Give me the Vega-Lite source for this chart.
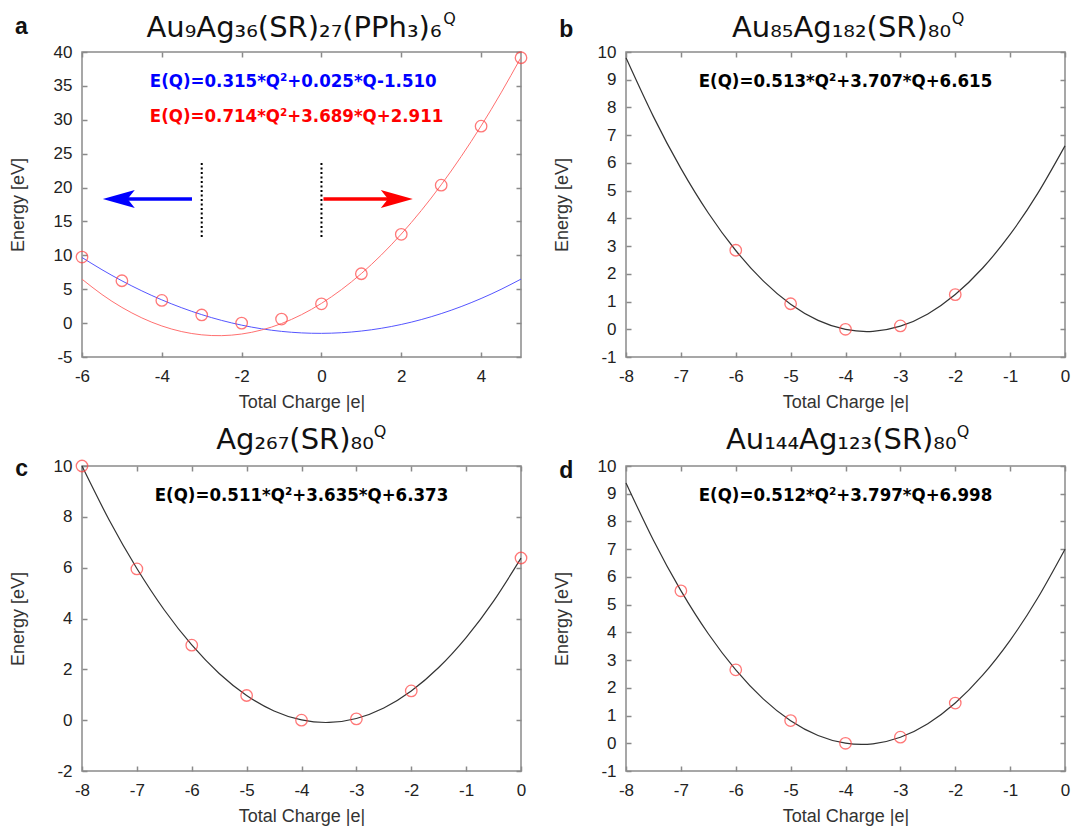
{
  "$schema": "https://vega.github.io/schema/vega-lite/v6.json",
  "padding": {"left": 8, "top": 10, "right": 0, "bottom": 0},
  "background": "white",
  "config": {
    "view": {"stroke": "#8a8a8a", "strokeWidth": 1.5},
    "axis": {"grid": false, "domain": false, "ticks": true, "tickSize": -5, "tickColor": "#8a8a8a", "tickWidth": 1.5,
      "labelFont": "Liberation Sans", "labelFontSize": 17, "labelColor": "#222222", "labelFlush": false, "labelOverlap": false,
      "labelExpr": "replace(format(datum.value, 'd'), '−', '-')",
      "titleFont": "Liberation Sans", "titleFontSize": 18, "titleFontWeight": "normal", "titleColor": "#333333"},
    "axisX": {"labelPadding": 16, "titlePadding": 9},
    "axisY": {"labelPadding": 15, "titlePadding": 26}
  },
  "datasets": {
    "pa": [{"q": -6, "e": 9.75}, {"q": -5, "e": 6.25}, {"q": -4, "e": 3.35}, {"q": -3, "e": 1.2}, {"q": -2, "e": 0.0}, {"q": -1, "e": 0.6}, {"q": 0, "e": 2.85}, {"q": 1, "e": 7.28}, {"q": 2, "e": 13.1}, {"q": 3, "e": 20.35}, {"q": 4, "e": 29.05}, {"q": 5, "e": 39.15}],
    "ca_blue": [{"q": -6, "e": 9.68}, {"q": -5.5, "e": 7.881}, {"q": -5, "e": 6.24}, {"q": -4.5, "e": 4.756}, {"q": -4, "e": 3.43}, {"q": -3.5, "e": 2.261}, {"q": -3, "e": 1.25}, {"q": -2.5, "e": 0.396}, {"q": -2, "e": -0.3}, {"q": -1.5, "e": -0.839}, {"q": -1, "e": -1.22}, {"q": -0.5, "e": -1.444}, {"q": 0, "e": -1.51}, {"q": 0.5, "e": -1.419}, {"q": 1, "e": -1.17}, {"q": 1.5, "e": -0.764}, {"q": 2, "e": -0.2}, {"q": 2.5, "e": 0.521}, {"q": 3, "e": 1.4}, {"q": 3.5, "e": 2.436}, {"q": 4, "e": 3.63}, {"q": 4.5, "e": 4.981}, {"q": 5, "e": 6.49}],
    "ca_red": [{"q": -6, "e": 6.481}, {"q": -5.5, "e": 4.22}, {"q": -5, "e": 2.316}, {"q": -4.5, "e": 0.769}, {"q": -4, "e": -0.421}, {"q": -3.5, "e": -1.254}, {"q": -3, "e": -1.73}, {"q": -2.5, "e": -1.849}, {"q": -2, "e": -1.611}, {"q": -1.5, "e": -1.016}, {"q": -1, "e": -0.064}, {"q": -0.5, "e": 1.245}, {"q": 0, "e": 2.911}, {"q": 0.5, "e": 4.934}, {"q": 1, "e": 7.314}, {"q": 1.5, "e": 10.051}, {"q": 2, "e": 13.145}, {"q": 2.5, "e": 16.596}, {"q": 3, "e": 20.404}, {"q": 3.5, "e": 24.569}, {"q": 4, "e": 29.091}, {"q": 4.5, "e": 33.97}, {"q": 5, "e": 39.206}],
    "pb": [{"q": -6, "e": 2.85}, {"q": -5, "e": 0.92}, {"q": -4, "e": 0.0}, {"q": -3, "e": 0.12}, {"q": -2, "e": 1.25}],
    "cb": [{"q": -8, "e": 9.791}, {"q": -7.5, "e": 7.669}, {"q": -7, "e": 5.803}, {"q": -6.5, "e": 4.193}, {"q": -6, "e": 2.841}, {"q": -5.5, "e": 1.745}, {"q": -5, "e": 0.905}, {"q": -4.5, "e": 0.322}, {"q": -4, "e": -0.005}, {"q": -3.5, "e": -0.075}, {"q": -3, "e": 0.111}, {"q": -2.5, "e": 0.554}, {"q": -2, "e": 1.253}, {"q": -1.5, "e": 2.209}, {"q": -1, "e": 3.421}, {"q": -0.5, "e": 4.89}, {"q": 0, "e": 6.615}],
    "pc": [{"q": -8, "e": 10.0}, {"q": -7, "e": 5.95}, {"q": -6, "e": 2.95}, {"q": -5, "e": 0.97}, {"q": -4, "e": 0.0}, {"q": -3, "e": 0.05}, {"q": -2, "e": 1.15}, {"q": 0, "e": 6.38}],
    "cc": [{"q": -8, "e": 9.997}, {"q": -7.5, "e": 7.854}, {"q": -7, "e": 5.967}, {"q": -6.5, "e": 4.335}, {"q": -6, "e": 2.959}, {"q": -5.5, "e": 1.838}, {"q": -5, "e": 0.973}, {"q": -4.5, "e": 0.363}, {"q": -4, "e": 0.009}, {"q": -3.5, "e": -0.09}, {"q": -3, "e": 0.067}, {"q": -2.5, "e": 0.479}, {"q": -2, "e": 1.147}, {"q": -1.5, "e": 2.07}, {"q": -1, "e": 3.249}, {"q": -0.5, "e": 4.683}, {"q": 0, "e": 6.373}],
    "pd": [{"q": -7, "e": 5.5}, {"q": -6, "e": 2.65}, {"q": -5, "e": 0.82}, {"q": -4, "e": 0.0}, {"q": -3, "e": 0.22}, {"q": -2, "e": 1.45}],
    "cd": [{"q": -8, "e": 9.39}, {"q": -7.5, "e": 7.321}, {"q": -7, "e": 5.507}, {"q": -6.5, "e": 3.95}, {"q": -6, "e": 2.648}, {"q": -5.5, "e": 1.603}, {"q": -5, "e": 0.813}, {"q": -4.5, "e": 0.28}, {"q": -4, "e": 0.002}, {"q": -3.5, "e": -0.02}, {"q": -3, "e": 0.215}, {"q": -2.5, "e": 0.706}, {"q": -2, "e": 1.452}, {"q": -1.5, "e": 2.455}, {"q": -1, "e": 3.713}, {"q": -0.5, "e": 5.228}, {"q": 0, "e": 6.998}]
  },
  "columns": 2,
  "spacing": {"row": 11, "column": 21},
  "concat": [
    {
      "width": 439, "height": 305,
      "resolve": {"scale": {"x": "independent", "y": "independent"}},
      "layer": [
        {"layer": [
          {"data": {"name": "ca_blue"}, "mark": {"type": "line", "color": "#5555ff", "strokeWidth": 1, "interpolate": "natural"},
           "encoding": {
             "x": {"field": "q", "type": "quantitative", "scale": {"domain": [-6, 5], "nice": false, "zero": false}, "axis": {"orient": "bottom", "values": [-6, -4, -2, 0, 2, 4], "tickCount": 40, "title": "Total Charge |e|"}},
             "y": {"field": "e", "type": "quantitative", "scale": {"domain": [-5, 40], "nice": false, "zero": false}, "axis": {"orient": "left", "values": [-5, 0, 5, 10, 15, 20, 25, 30, 35, 40], "tickCount": 40, "title": "Energy [eV]"}}}},
          {"data": {"name": "ca_red"}, "mark": {"type": "line", "color": "#ff7070", "strokeWidth": 1, "interpolate": "natural"},
           "encoding": {"x": {"field": "q", "type": "quantitative"}, "y": {"field": "e", "type": "quantitative"}}},
          {"data": {"values": [{"pos": -3}, {"pos": 0}]}, "mark": {"type": "rule", "color": "#000000", "strokeWidth": 2, "strokeDash": [2, 2.5]},
           "encoding": {"x": {"field": "pos", "type": "quantitative"}, "y": {"datum": 12.7, "type": "quantitative"}, "y2": {"datum": 23.8}}},
          {"data": {"values": [{}]}, "mark": {"type": "rule", "color": "#0000ff", "strokeWidth": 3.5},
           "encoding": {"x": {"datum": -5.0, "type": "quantitative"}, "x2": {"datum": -3.244}, "y": {"datum": 18.3, "type": "quantitative"}}},
          {"data": {"values": [{}]}, "mark": {"type": "point", "shape": "M-1,0L1,-0.56L0.55,0L1,0.56Z", "filled": true, "color": "#0000ff", "size": 1024, "opacity": 1, "strokeWidth": 0},
           "encoding": {"x": {"datum": -5.078, "type": "quantitative"}, "y": {"datum": 18.3, "type": "quantitative"}}},
          {"data": {"values": [{}]}, "mark": {"type": "rule", "color": "#ff0000", "strokeWidth": 3.5},
           "encoding": {"x": {"datum": 0.05, "type": "quantitative"}, "x2": {"datum": 1.85}, "y": {"datum": 18.3, "type": "quantitative"}}},
          {"data": {"values": [{}]}, "mark": {"type": "point", "shape": "M1,0L-1,-0.56L-0.55,0L-1,0.56Z", "filled": true, "color": "#ff0000", "size": 1024, "opacity": 1, "strokeWidth": 0},
           "encoding": {"x": {"datum": 1.888, "type": "quantitative"}, "y": {"datum": 18.3, "type": "quantitative"}}},
          {"data": {"values": [{}]}, "mark": {"type": "text", "text": "E(Q)=0.315*Q²+0.025*Q-1.510", "font": "DejaVu Sans Condensed, DejaVu Sans", "fontWeight": "bold", "fontSize": 18.5, "color": "#0000ff", "align": "left", "baseline": "middle"},
           "encoding": {"x": {"datum": -4.3, "type": "quantitative"}, "y": {"datum": 35.72, "type": "quantitative"}}},
          {"data": {"values": [{}]}, "mark": {"type": "text", "text": "E(Q)=0.714*Q²+3.689*Q+2.911", "font": "DejaVu Sans Condensed, DejaVu Sans", "fontWeight": "bold", "fontSize": 18.5, "color": "#ff0000", "align": "left", "baseline": "middle"},
           "encoding": {"x": {"datum": -4.3, "type": "quantitative"}, "y": {"datum": 30.56, "type": "quantitative"}}},
          {"data": {"values": [{}]}, "mark": {"type": "text", "text": "Au₉Ag₃₆(SR)₂₇(PPh₃)₆", "font": "DejaVu Sans", "fontSize": 29, "color": "#111111", "align": "center", "baseline": "alphabetic"},
           "encoding": {"x": {"datum": -0.688, "type": "quantitative"}, "y": {"datum": 42.26, "type": "quantitative"}}},
          {"data": {"values": [{}]}, "mark": {"type": "text", "text": "a", "font": "Liberation Sans", "fontWeight": "bold", "fontSize": 23, "color": "#111111", "align": "center", "baseline": "alphabetic"},
           "encoding": {"x": {"datum": -7.52, "type": "quantitative"}, "y": {"datum": 42.66, "type": "quantitative"}}},
          {"data": {"values": [{}]}, "mark": {"type": "text", "text": "Q", "font": "DejaVu Sans", "fontSize": 16, "color": "#111111", "align": "center", "baseline": "middle"},
           "encoding": {"x": {"datum": 3.21, "type": "quantitative"}, "y": {"datum": 44.87, "type": "quantitative"}}}
        ]},
        {"data": {"name": "pa"}, "mark": {"type": "point", "shape": "circle", "size": 132, "color": "#ff4040", "strokeWidth": 1.3, "filled": false},
         "encoding": {
           "x": {"field": "q", "type": "quantitative", "scale": {"domain": [-6, 5], "nice": false, "zero": false}, "axis": {"orient": "top", "values": [-6, -4, -2, 0, 2, 4], "tickCount": 40, "labels": false, "title": null}},
           "y": {"field": "e", "type": "quantitative", "scale": {"domain": [-5, 40], "nice": false, "zero": false}, "axis": {"orient": "right", "values": [-5, 0, 5, 10, 15, 20, 25, 30, 35, 40], "tickCount": 40, "labels": false, "title": null}}}}
      ]
    },
    {
      "width": 439, "height": 305,
      "resolve": {"scale": {"x": "independent", "y": "independent"}},
      "layer": [
        {"layer": [
          {"data": {"name": "cb"}, "mark": {"type": "line", "color": "#333333", "strokeWidth": 1.2, "interpolate": "natural"},
           "encoding": {
             "x": {"field": "q", "type": "quantitative", "scale": {"domain": [-8, 0], "nice": false, "zero": false}, "axis": {"orient": "bottom", "values": [-8, -7, -6, -5, -4, -3, -2, -1, 0], "tickCount": 40, "title": "Total Charge |e|"}},
             "y": {"field": "e", "type": "quantitative", "scale": {"domain": [-1, 10], "nice": false, "zero": false}, "axis": {"orient": "left", "values": [-1, 0, 1, 2, 3, 4, 5, 6, 7, 8, 9, 10], "tickCount": 40, "title": "Energy [eV]"}}}},
          {"data": {"values": [{}]}, "mark": {"type": "text", "text": "E(Q)=0.513*Q²+3.707*Q+6.615", "font": "DejaVu Sans Condensed, DejaVu Sans", "fontWeight": "bold", "fontSize": 18.5, "color": "#000000", "align": "center", "baseline": "middle"},
           "encoding": {"x": {"datum": -4, "type": "quantitative"}, "y": {"datum": 8.95, "type": "quantitative"}}},
          {"data": {"values": [{}]}, "mark": {"type": "text", "text": "Au₈₅Ag₁₈₂(SR)₈₀", "font": "DejaVu Sans", "fontSize": 29, "color": "#111111", "align": "center", "baseline": "alphabetic"},
           "encoding": {"x": {"datum": -4.073, "type": "quantitative"}, "y": {"datum": 10.55, "type": "quantitative"}}},
          {"data": {"values": [{}]}, "mark": {"type": "text", "text": "b", "font": "Liberation Sans", "fontWeight": "bold", "fontSize": 23, "color": "#111111", "align": "center", "baseline": "alphabetic"},
           "encoding": {"x": {"datum": -9.09, "type": "quantitative"}, "y": {"datum": 10.54, "type": "quantitative"}}},
          {"data": {"values": [{}]}, "mark": {"type": "text", "text": "Q", "font": "DejaVu Sans", "fontSize": 16, "color": "#111111", "align": "center", "baseline": "middle"},
           "encoding": {"x": {"datum": -1.95, "type": "quantitative"}, "y": {"datum": 11.19, "type": "quantitative"}}}
        ]},
        {"data": {"name": "pb"}, "mark": {"type": "point", "shape": "circle", "size": 132, "color": "#ff4040", "strokeWidth": 1.3, "filled": false},
         "encoding": {
           "x": {"field": "q", "type": "quantitative", "scale": {"domain": [-8, 0], "nice": false, "zero": false}, "axis": {"orient": "top", "values": [-8, -7, -6, -5, -4, -3, -2, -1, 0], "tickCount": 40, "labels": false, "title": null}},
           "y": {"field": "e", "type": "quantitative", "scale": {"domain": [-1, 10], "nice": false, "zero": false}, "axis": {"orient": "right", "values": [-1, 0, 1, 2, 3, 4, 5, 6, 7, 8, 9, 10], "tickCount": 40, "labels": false, "title": null}}}}
      ]
    },
    {
      "width": 439, "height": 305,
      "resolve": {"scale": {"x": "independent", "y": "independent"}},
      "layer": [
        {"layer": [
          {"data": {"name": "cc"}, "mark": {"type": "line", "color": "#333333", "strokeWidth": 1.2, "interpolate": "natural"},
           "encoding": {
             "x": {"field": "q", "type": "quantitative", "scale": {"domain": [-8, 0], "nice": false, "zero": false}, "axis": {"orient": "bottom", "values": [-8, -7, -6, -5, -4, -3, -2, -1, 0], "tickCount": 40, "title": "Total Charge |e|"}},
             "y": {"field": "e", "type": "quantitative", "scale": {"domain": [-2, 10], "nice": false, "zero": false}, "axis": {"orient": "left", "values": [-2, 0, 2, 4, 6, 8, 10], "tickCount": 40, "title": "Energy [eV]"}}}},
          {"data": {"values": [{}]}, "mark": {"type": "text", "text": "E(Q)=0.511*Q²+3.635*Q+6.373", "font": "DejaVu Sans Condensed, DejaVu Sans", "fontWeight": "bold", "fontSize": 18.5, "color": "#000000", "align": "center", "baseline": "middle"},
           "encoding": {"x": {"datum": -4, "type": "quantitative"}, "y": {"datum": 8.86, "type": "quantitative"}}},
          {"data": {"values": [{}]}, "mark": {"type": "text", "text": "Ag₂₆₇(SR)₈₀", "font": "DejaVu Sans", "fontSize": 29, "color": "#111111", "align": "center", "baseline": "alphabetic"},
           "encoding": {"x": {"datum": -4.118, "type": "quantitative"}, "y": {"datum": 10.68, "type": "quantitative"}}},
          {"data": {"values": [{}]}, "mark": {"type": "text", "text": "c", "font": "Liberation Sans", "fontWeight": "bold", "fontSize": 23, "color": "#111111", "align": "center", "baseline": "alphabetic"},
           "encoding": {"x": {"datum": -9.1, "type": "quantitative"}, "y": {"datum": 9.61, "type": "quantitative"}}},
          {"data": {"values": [{}]}, "mark": {"type": "text", "text": "Q", "font": "DejaVu Sans", "fontSize": 16, "color": "#111111", "align": "center", "baseline": "middle"},
           "encoding": {"x": {"datum": -2.57, "type": "quantitative"}, "y": {"datum": 11.34, "type": "quantitative"}}}
        ]},
        {"data": {"name": "pc"}, "mark": {"type": "point", "shape": "circle", "size": 132, "color": "#ff4040", "strokeWidth": 1.3, "filled": false},
         "encoding": {
           "x": {"field": "q", "type": "quantitative", "scale": {"domain": [-8, 0], "nice": false, "zero": false}, "axis": {"orient": "top", "values": [-8, -7, -6, -5, -4, -3, -2, -1, 0], "tickCount": 40, "labels": false, "title": null}},
           "y": {"field": "e", "type": "quantitative", "scale": {"domain": [-2, 10], "nice": false, "zero": false}, "axis": {"orient": "right", "values": [-2, 0, 2, 4, 6, 8, 10], "tickCount": 40, "labels": false, "title": null}}}}
      ]
    },
    {
      "width": 439, "height": 305,
      "resolve": {"scale": {"x": "independent", "y": "independent"}},
      "layer": [
        {"layer": [
          {"data": {"name": "cd"}, "mark": {"type": "line", "color": "#333333", "strokeWidth": 1.2, "interpolate": "natural"},
           "encoding": {
             "x": {"field": "q", "type": "quantitative", "scale": {"domain": [-8, 0], "nice": false, "zero": false}, "axis": {"orient": "bottom", "values": [-8, -7, -6, -5, -4, -3, -2, -1, 0], "tickCount": 40, "title": "Total Charge |e|"}},
             "y": {"field": "e", "type": "quantitative", "scale": {"domain": [-1, 10], "nice": false, "zero": false}, "axis": {"orient": "left", "values": [-1, 0, 1, 2, 3, 4, 5, 6, 7, 8, 9, 10], "tickCount": 40, "title": "Energy [eV]"}}}},
          {"data": {"values": [{}]}, "mark": {"type": "text", "text": "E(Q)=0.512*Q²+3.797*Q+6.998", "font": "DejaVu Sans Condensed, DejaVu Sans", "fontWeight": "bold", "fontSize": 18.5, "color": "#000000", "align": "center", "baseline": "middle"},
           "encoding": {"x": {"datum": -4, "type": "quantitative"}, "y": {"datum": 8.95, "type": "quantitative"}}},
          {"data": {"values": [{}]}, "mark": {"type": "text", "text": "Au₁₄₄Ag₁₂₃(SR)₈₀", "font": "DejaVu Sans", "fontSize": 29, "color": "#111111", "align": "center", "baseline": "alphabetic"},
           "encoding": {"x": {"datum": -4.077, "type": "quantitative"}, "y": {"datum": 10.62, "type": "quantitative"}}},
          {"data": {"values": [{}]}, "mark": {"type": "text", "text": "d", "font": "Liberation Sans", "fontWeight": "bold", "fontSize": 23, "color": "#111111", "align": "center", "baseline": "alphabetic"},
           "encoding": {"x": {"datum": -9.09, "type": "quantitative"}, "y": {"datum": 9.57, "type": "quantitative"}}},
          {"data": {"values": [{}]}, "mark": {"type": "text", "text": "Q", "font": "DejaVu Sans", "fontSize": 16, "color": "#111111", "align": "center", "baseline": "middle"},
           "encoding": {"x": {"datum": -1.86, "type": "quantitative"}, "y": {"datum": 11.23, "type": "quantitative"}}}
        ]},
        {"data": {"name": "pd"}, "mark": {"type": "point", "shape": "circle", "size": 132, "color": "#ff4040", "strokeWidth": 1.3, "filled": false},
         "encoding": {
           "x": {"field": "q", "type": "quantitative", "scale": {"domain": [-8, 0], "nice": false, "zero": false}, "axis": {"orient": "top", "values": [-8, -7, -6, -5, -4, -3, -2, -1, 0], "tickCount": 40, "labels": false, "title": null}},
           "y": {"field": "e", "type": "quantitative", "scale": {"domain": [-1, 10], "nice": false, "zero": false}, "axis": {"orient": "right", "values": [-1, 0, 1, 2, 3, 4, 5, 6, 7, 8, 9, 10], "tickCount": 40, "labels": false, "title": null}}}}
      ]
    }
  ]
}
